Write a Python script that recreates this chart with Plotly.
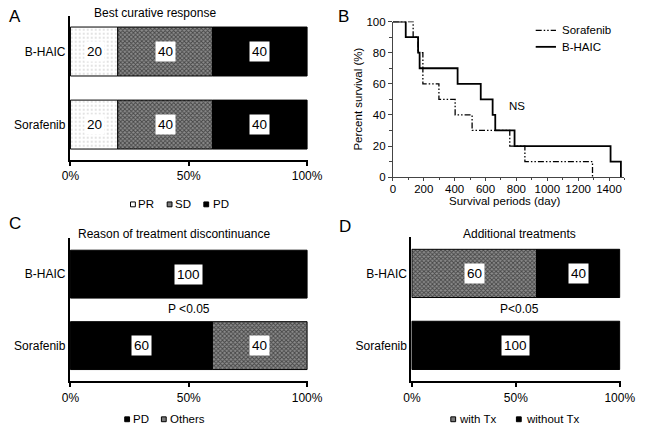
import plotly.graph_objects as go

# ---------------- data ----------------
groups = ["B-HAIC", "Sorafenib"]

resp_PR = [20, 20]
resp_SD = [40, 40]
resp_PD = [40, 40]

disc_PD = [100, 60]
disc_Others = [0, 40]

add_with = [60, 0]
add_without = [40, 100]

bhaic_days = [0, 83, 163, 173, 419, 569, 646, 663, 788, 1410, 1477]
bhaic_surv = [100, 90, 80, 70, 60, 50, 40, 30, 20, 10, 0]
sora_days = [0, 131, 163, 194, 298, 403, 513, 757, 855, 1293]
sora_surv = [100, 90, 80, 60, 50, 40, 30, 20, 10, 0]

pct_ticks = [0, 50, 100]
pct_labels = ["0%", "50%", "100%"]
surv_xticks = [0, 200, 400, 600, 800, 1000, 1200, 1400]
surv_yticks = [0, 20, 40, 60, 80, 100]

# ---------------- layout helpers ----------------
W, H = 652, 435
FONT = "Liberation Sans, Arial, sans-serif"


def px(x):
    return x / W


def py(y):
    return 1 - y / H


PR_STYLE = dict(color="white", line=dict(color="black", width=1),
                pattern=dict(shape=".", fgcolor="#777", bgcolor="white", size=4, solidity=0.12))
SD_STYLE = dict(color="#666", line=dict(color="black", width=1),
                pattern=dict(shape="x", fgcolor="#000", bgcolor="#8c8c8c", size=3, solidity=0.5))
PD_STYLE = dict(color="black", line=dict(color="black", width=1))

fig = go.Figure()
annotations = []


def add_stack(series_list, xa, ya):
    starts = [0] * len(groups)
    for vals, style in series_list:
        ys = [g for g, v in zip(groups, vals) if v > 0]
        xs = [v for v in vals if v > 0]
        bs = [s for s, v in zip(starts, vals) if v > 0]
        fig.add_trace(go.Bar(x=xs, y=ys, base=bs, orientation="h", marker=style,
                             width=0.67, xaxis=xa, yaxis=ya, showlegend=False,
                             hoverinfo="skip"))
        for g, v, s in zip(ys, xs, bs):
            annotations.append(dict(x=s + v / 2, y=g, xref=xa, yref=ya, text=str(v),
                                    showarrow=False, bgcolor="white", borderpad=2,
                                    font=dict(size=13.5, color="black", family=FONT)))
        starts = [s + v for s, v in zip(starts, vals)]


add_stack([(resp_PR, PR_STYLE), (resp_SD, SD_STYLE), (resp_PD, PD_STYLE)], "x", "y")
add_stack([(disc_PD, PD_STYLE), (disc_Others, SD_STYLE)], "x3", "y3")
add_stack([(add_with, SD_STYLE), (add_without, PD_STYLE)], "x4", "y4")

# survival curves
fig.add_trace(go.Scatter(x=sora_days, y=sora_surv, mode="lines", line_shape="hv",
                         line=dict(color="black", width=1.3, dash="6px,2px,1.5px,2px,1.5px,2px"),
                         xaxis="x2", yaxis="y2", showlegend=False, cliponaxis=False,
                         name="Sorafenib"))
fig.add_trace(go.Scatter(x=bhaic_days, y=bhaic_surv, mode="lines", line_shape="hv",
                         line=dict(color="black", width=1.8),
                         xaxis="x2", yaxis="y2", showlegend=False, cliponaxis=False,
                         name="B-HAIC"))


def bar_xaxis(d0, d1, anchor):
    return dict(domain=[px(d0), px(d1)], range=[-0.3, 100.4], anchor=anchor,
                tickvals=pct_ticks, ticktext=pct_labels, showline=True, linecolor="black",
                linewidth=1.8, ticks="outside", ticklen=4, tickwidth=1.5, tickcolor="black",
                showgrid=False, zeroline=False, tickfont=dict(size=12, color="black", family=FONT))


def bar_yaxis(top, bottom, anchor, rng):
    return dict(domain=[py(bottom), py(top)], anchor=anchor, type="category",
                categoryorder="array", categoryarray=["Sorafenib", "B-HAIC"],
                range=rng, showline=True, linecolor="black", linewidth=1.8,
                ticks="", showgrid=False, zeroline=False,
                tickfont=dict(size=12, color="black", family=FONT))


layout = dict(
    width=W, height=H, margin=dict(l=0, r=0, t=0, b=0),
    paper_bgcolor="white", plot_bgcolor="white", barmode="overlay",
    font=dict(family=FONT, color="black"),
    xaxis=bar_xaxis(64, 311, "y"),
    yaxis=bar_yaxis(10, 158, "x", [-0.48, 1.49]),
    xaxis3=bar_xaxis(64, 311, "y3"),
    yaxis3=bar_yaxis(239, 386, "x3", [-0.5, 1.5]),
    xaxis4=bar_xaxis(418, 635, "y4"),
    yaxis4=bar_yaxis(238, 386, "x4", [-0.5, 1.5]),
    xaxis2=dict(domain=[px(399), px(639)], range=[0, 1500], anchor="y2",
                tickvals=surv_xticks, showline=True, linecolor="#444", linewidth=1,
                ticks="outside", ticklen=3, tickcolor="#444", showgrid=False, zeroline=False,
                ticklabelstandoff=-2,
                minor=dict(dtick=100, tick0=0, ticks="outside", ticklen=2, tickcolor="#444"),
                tickfont=dict(size=11.5, color="black", family=FONT)),
    yaxis2=dict(domain=[py(176), py(16)], range=[0, 100], anchor="x2",
                tickvals=surv_yticks, showline=True, linecolor="#444", linewidth=1,
                ticks="outside", ticklen=4, tickcolor="#444", showgrid=False, zeroline=False,
                minor=dict(dtick=10, tick0=0, ticks="outside", ticklen=3, tickcolor="#444"),
                tickfont=dict(size=11.5, color="black", family=FONT)),
)


def text(x, y, s, size=12, xanchor="center", angle=0):
    annotations.append(dict(x=px(x), y=py(y), xref="paper", yref="paper", text=s,
                            showarrow=False, xanchor=xanchor, yanchor="middle",
                            textangle=angle, font=dict(size=size, color="black", family=FONT)))


# panel letters
text(7, 11, "A", 17)
text(348, 11, "B", 17)
text(7, 224, "C", 17)
text(349, 227, "D", 17)

# titles
text(152, 7, "Best curative response", 12)
text(172, 234, "Reason of treatment discontinuance", 12)
text(530, 234, "Additional treatments", 12)
text(188, 312, "P &lt;0.05", 12)
text(530, 312, "P&lt;0.05", 12)
text(528, 103, "NS", 11.5)
text(515, 201, "Survival periods (day)", 11.5)
text(363, 96, "Percent survival (%)", 11.5, angle=-90)

shapes = []


def swatch(x0, yc, kind):
    fill = {"white": "white", "gray": "#7a7a7a", "black": "black"}[kind]
    shapes.append(dict(type="rect", xref="paper", yref="paper",
                       x0=px(x0), x1=px(x0 + 5), y0=py(yc + 2.5), y1=py(yc - 2.5),
                       fillcolor=fill, line=dict(color="black", width=1)))


# legend A
swatch(127, 204, "white"); text(133, 204, "PR", 11.5, "left")
swatch(165, 204, "gray"); text(171, 204, "SD", 11.5, "left")
swatch(203, 204, "black"); text(210, 204, "PD", 11.5, "left")
# legend C
swatch(121, 425, "black"); text(127, 425, "PD", 11.5, "left")
swatch(159, 425, "gray"); text(166, 425, "Others", 11.5, "left")
# legend D
swatch(459, 425, "gray"); text(465, 425, "with Tx", 11.5, "left")
swatch(527, 425, "black"); text(535, 425, "without Tx", 11.5, "left")

# legend B
shapes.append(dict(type="line", xref="paper", yref="paper", x0=px(547), x1=px(568),
                   y0=py(25), y1=py(25),
                   line=dict(color="black", width=1.3, dash="6px,2px,1.5px,2px,1.5px,2px")))
shapes.append(dict(type="line", xref="paper", yref="paper", x0=px(547), x1=px(568),
                   y0=py(42), y1=py(42), line=dict(color="black", width=1.8)))
text(572, 25, "Sorafenib", 11.5, "left")
text(572, 42, "B-HAIC", 11.5, "left")

layout["annotations"] = annotations
layout["shapes"] = shapes
fig.update_layout(**layout)

fig.write_html("out.html", config={"displayModeBar": False},
               post_script="document.body.style.margin='0px';document.body.style.overflow='hidden';")
